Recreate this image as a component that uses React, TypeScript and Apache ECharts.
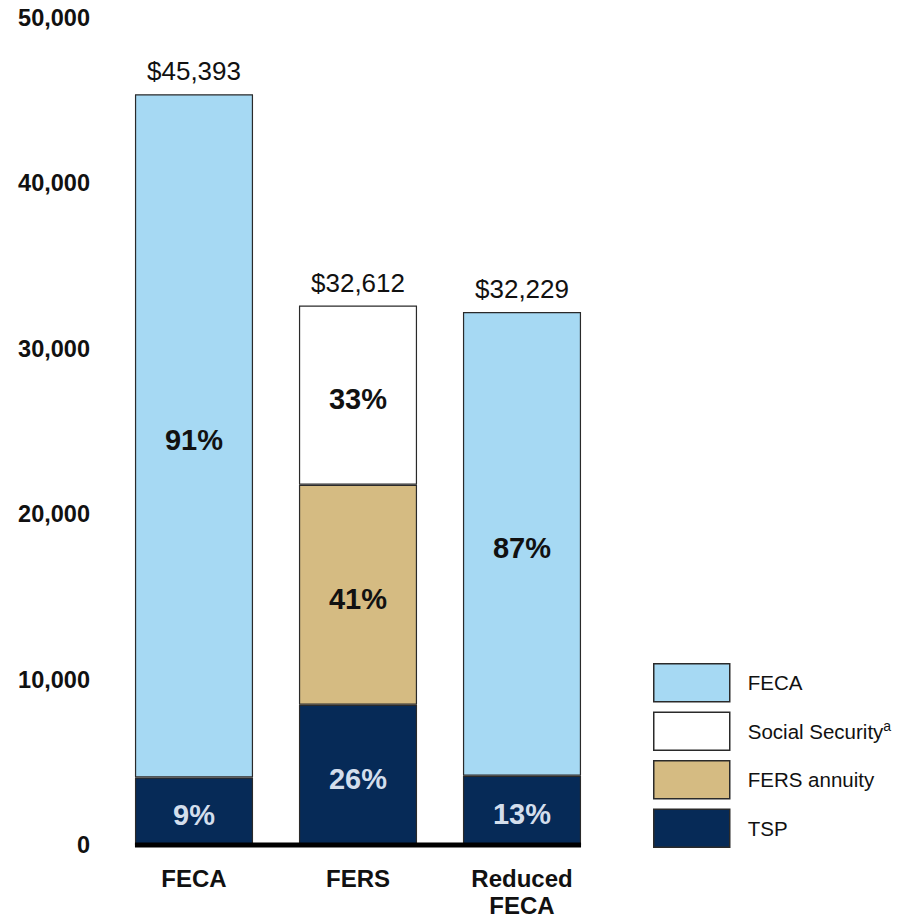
import React, { useEffect, useRef } from "react";
import * as echarts from "echarts";

const categories = ["FECA", "FERS", "Reduced\nFECA"];
const tspValues = [4085, 8479, 4190];
const fersAnnuityValues: (number | string)[] = ["-", 13300, "-"];
const socialSecurityValues: (number | string)[] = ["-", 10833, "-"];
const fecaValues: (number | string)[] = [41308, "-", 28039];
const totalLabels = ["$45,393", "$32,612", "$32,229"];
const tspPct = ["9%", "26%", "13%"];
const fersAnnuityPct = ["", "41%", ""];
const socialSecurityPct = ["", "33%", ""];
const fecaPct = ["91%", "", "87%"];
const legendNames = ["FECA", "Social Security", "FERS annuity", "TSP"];

const FONT = "'Liberation Sans', Arial, sans-serif";
const BAR_FRAC = 0.72;

export default function App() {
  const ref = useRef<HTMLDivElement>(null);
  useEffect(() => {
    if (!ref.current) return;
    const chart = echarts.init(ref.current, null, { renderer: "svg" });
    const border = { borderColor: "#2a2a2a", borderWidth: 1.2 };
    const pctLabel = (arr: string[], color: string) => ({
      show: true,
      position: "inside",
      offset: [0, 4],
      formatter: (p: any) => arr[p.dataIndex],
      fontFamily: FONT,
      fontSize: 29,
      fontWeight: "bold",
      color,
    });
    const option: any = {
      animation: false,
      backgroundColor: "#ffffff",
      grid: { left: 112, top: 18, width: 492, height: 830 },
      xAxis: {
        type: "category",
        data: categories,
        axisLine: { show: false },
        axisTick: { show: false },
        axisLabel: {
          margin: 20,
          fontFamily: FONT,
          fontSize: 24,
          fontWeight: "bold",
          color: "#111",
          lineHeight: 27,
        },
      },
      yAxis: {
        type: "value",
        min: 0,
        max: 50000,
        interval: 10000,
        splitLine: { show: false },
        axisLine: { show: false },
        axisTick: { show: false },
        axisLabel: {
          margin: 22,
          fontFamily: FONT,
          fontSize: 23.5,
          fontWeight: "bold",
          color: "#111",
          formatter: (v: number) => v.toLocaleString("en-US"),
        },
      },
      legend: {
        data: legendNames,
        orient: "vertical",
        left: 653,
        top: 663,
        padding: 0,
        itemWidth: 76,
        itemHeight: 38,
        itemGap: 9,
        icon: "rect",
        selectedMode: false,
        itemStyle: { borderColor: "#2a2a2a", borderWidth: 1.5 },
        formatter: (name: string) =>
          name === "Social Security" ? "{n|Social Security}{s|a}" : "{n|" + name + "}",
        textStyle: {
          padding: [0, 0, 0, 13],
          rich: {
            n: { fontFamily: FONT, fontSize: 20.5, color: "#111" },
            s: { fontFamily: FONT, fontSize: 14, color: "#111", padding: [0, 0, 11, 0] },
          },
        },
      },
      series: [
        {
          name: "TSP",
          type: "bar",
          stack: "a",
          barWidth: BAR_FRAC * 100 + "%",
          data: tspValues,
          itemStyle: { color: "#062a57", ...border },
          label: pctLabel(tspPct, "#d3deec"),
        },
        {
          name: "FERS annuity",
          type: "bar",
          stack: "a",
          data: fersAnnuityValues,
          itemStyle: { color: "#d5bb82", ...border },
          label: pctLabel(fersAnnuityPct, "#111"),
        },
        {
          name: "Social Security",
          type: "bar",
          stack: "a",
          data: socialSecurityValues,
          itemStyle: { color: "#ffffff", ...border },
          label: pctLabel(socialSecurityPct, "#111"),
        },
        {
          name: "FECA",
          type: "bar",
          stack: "a",
          data: fecaValues,
          itemStyle: { color: "#a6d9f3", ...border },
          label: pctLabel(fecaPct, "#111"),
        },
        {
          name: "total",
          type: "bar",
          stack: "a",
          data: [0, 0, 0],
          itemStyle: { color: "transparent", borderWidth: 0 },
          label: {
            show: true,
            position: "top",
            distance: 10,
            formatter: (p: any) => totalLabels[p.dataIndex],
            fontFamily: FONT,
            fontSize: 26,
            color: "#111",
          },
        },
      ],
    };
    chart.setOption(option);
    const c0 = chart.convertToPixel({ xAxisIndex: 0 }, 0) as number;
    const c1 = chart.convertToPixel({ xAxisIndex: 0 }, 1) as number;
    const c2 = chart.convertToPixel({ xAxisIndex: 0 }, 2) as number;
    const y0 = chart.convertToPixel({ yAxisIndex: 0 }, 0) as number;
    const half = ((c1 - c0) * BAR_FRAC) / 2;
    chart.setOption({
      graphic: [
        {
          type: "line",
          shape: { x1: c0 - half, y1: y0, x2: c2 + half, y2: y0 },
          style: { stroke: "#000", lineWidth: 5 },
          z: 100,
        },
      ],
    });
    return () => chart.dispose();
  }, []);
  return (
    <div
      ref={ref}
      style={{ position: "absolute", left: 0, top: 0, width: 915, height: 919 }}
    />
  );
}
